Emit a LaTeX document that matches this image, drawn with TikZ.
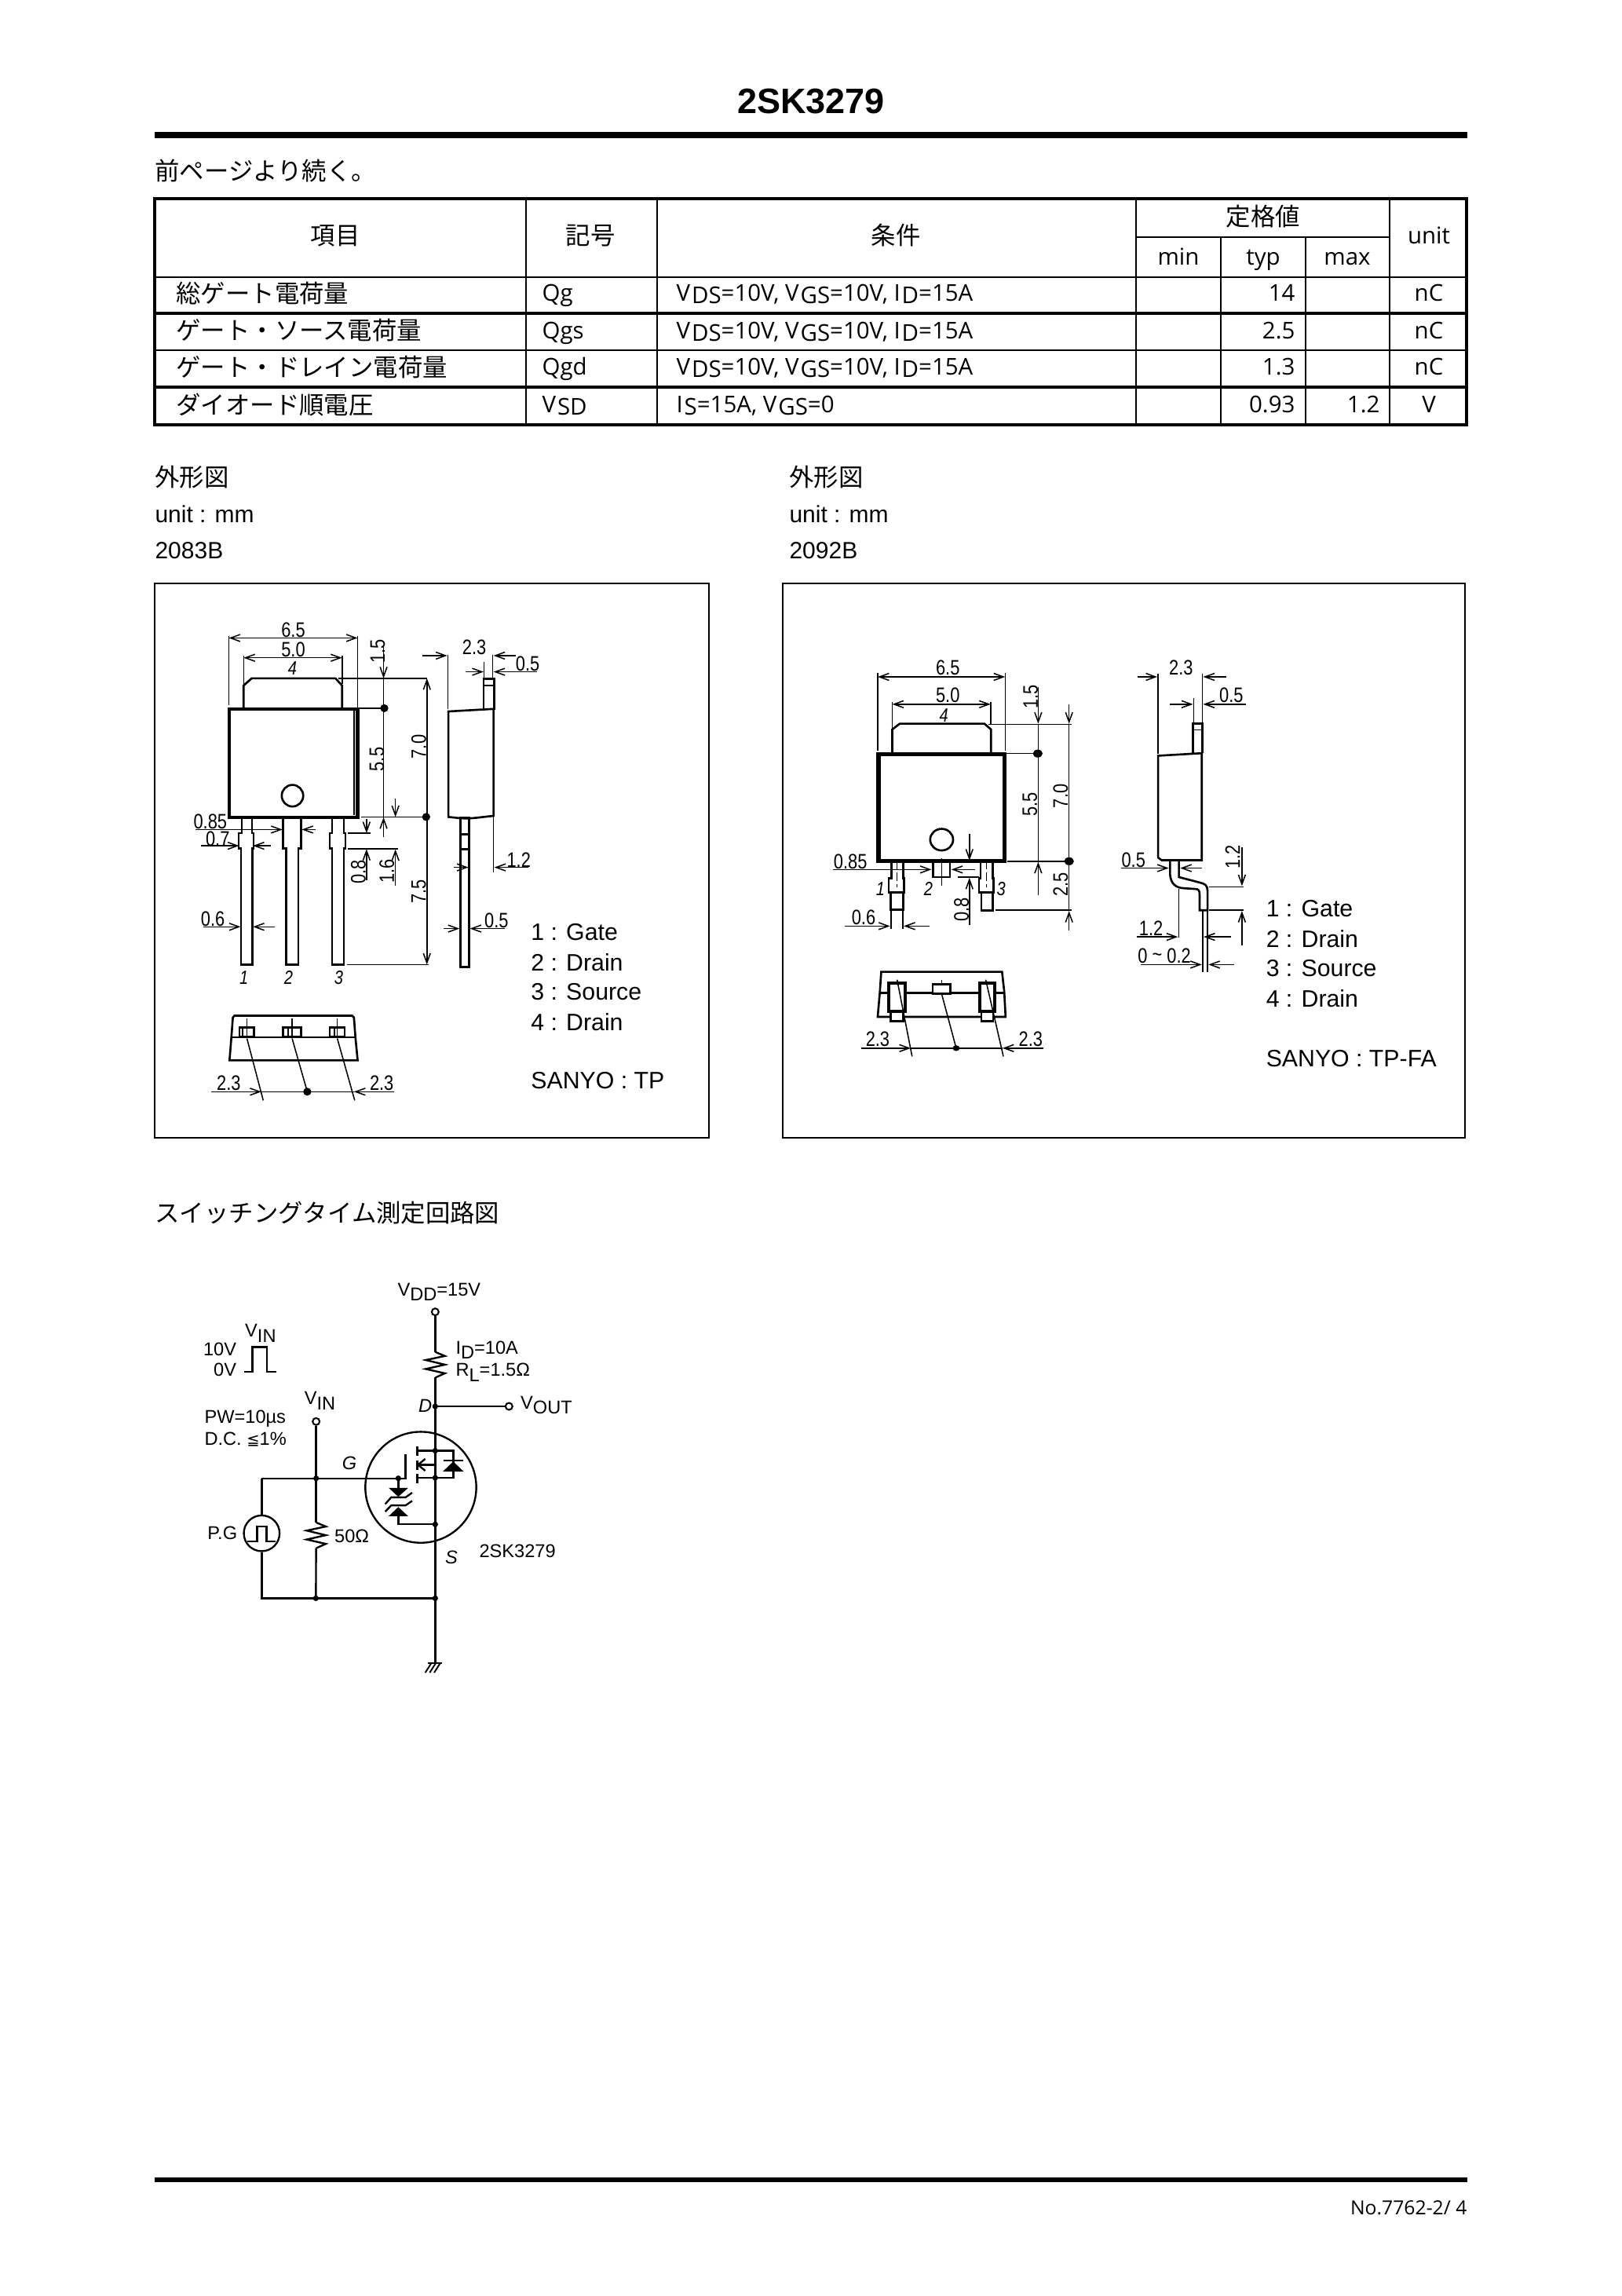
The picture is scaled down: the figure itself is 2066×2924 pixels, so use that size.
\documentclass[tikz,border=0pt]{standalone}
\usepackage{fontspec}
\usetikzlibrary{arrows.meta}
\setmainfont{Liberation Sans}
\newfontfamily\cjk{Noto Sans CJK JP}
\newfontfamily\tabf{Open Sans}
\newfontfamily\dimf[FakeStretch=0.82]{Liberation Sans}
\newfontfamily\djv{DejaVu Sans}
\newcommand\Sb[1]{\kern0.7pt\raisebox{-1.2pt}{#1}}
\newcommand\Sc[1]{\raisebox{-2.3pt}{#1}}
\newcounter{lbl}
\newcommand\Lab[3][]{\stepcounter{lbl}\node[dimlab,#1] (lab\thelbl) at (#2) {#3};}
\newcommand\Rot[2]{\stepcounter{lbl}\node[dimlab,rotate=90] (lab\thelbl) at (#1) {#2};}
\newcommand\Ar[2]{\draw[dimar] (#1) -- (#2);}
\newcommand\Li[2]{\draw[thinl] (#1) -- (#2);}
\newcommand\Dt[1]{\fill (#1) ellipse [x radius=11,y radius=11];}
\tikzset{
 dimlab/.style={inner sep=0pt,font=\dimf\fontsize{9.6}{10}\selectfont},
 legend/.style={inner sep=0pt,anchor=west,font=\fontsize{10.9}{12}\selectfont},
 nums/.style={inner sep=0pt,font=\itshape\dimf\fontsize{8.8}{10}\selectfont},
 dimar/.style={line width=0.55pt,-{Straight Barb[length=4.4pt,width=3.2pt]}},
 thinl/.style={line width=0.55pt},
 outl/.style={line width=0.95pt,line join=miter},
 heavy/.style={line width=1.5pt},
 tabt/.style={inner sep=0pt,font=\tabf\fontsize{10.6}{12}\selectfont},
 tabj/.style={inner sep=0pt,font=\cjk\fontsize{11.3}{12}\selectfont},
 plain/.style={inner sep=0pt,font=\fontsize{10.8}{12}\selectfont},
 wire/.style={line width=0.85pt},
 ctext/.style={inner sep=0pt,font=\fontsize{8.5}{10}\selectfont},
 citalic/.style={inner sep=0pt,font=\itshape\fontsize{8.5}{10}\selectfont},
 opent/.style={circle,draw,fill=white,line width=0.75pt,inner sep=0pt,minimum size=3.2pt},
 jdot/.style={circle,fill=black,inner sep=0pt,minimum size=2.6pt},
}
\begin{document}
\begin{tikzpicture}[x=0.36pt,y=-0.36pt]
\useasboundingbox[fill=white] (0,0) rectangle (2066,2924);
% header
\node[inner sep=0pt,font=\bfseries\fontsize{16.2}{18}\selectfont] (title) at (1033,129) {2SK3279};
\draw[line width=2.9pt] (197,172) -- (1869,172);
\node[tabj,anchor=west] (cont) at (197,218) {前ページより続く。};
% table
\draw[line width=1.1pt] (197,253) rectangle (1868,541);
\draw[line width=0.8pt] (197,353) -- (1868,353);
\draw[line width=1.3pt] (197,399) -- (1868,399);
\draw[line width=0.8pt] (197,446) -- (1868,446);
\draw[line width=1.1pt] (197,493) -- (1868,493);
\foreach \xx in {670,837,1447,1770} \draw[line width=0.8pt] (\xx,253) -- (\xx,541);
\foreach \xx in {1555,1663} \draw[line width=0.8pt] (\xx,302) -- (\xx,541);
\draw[line width=0.8pt] (1447,302) -- (1770,302);
\node[tabj] (h1) at (427,300) {項目};
\node[tabj] (h2) at (752,300) {記号};
\node[tabj] (h3) at (1141,300) {条件};
\node[tabj] (h4) at (1609,276) {定格値};
\node[tabt] (h5) at (1820,300) {unit};
\node[tabt,anchor=base] (h6) at (1501,337) {min};
\node[tabt,anchor=base] (h7) at (1609,337) {typ};
\node[tabt,anchor=base] (h8) at (1716,337) {max};
\node[tabj,anchor=west] (a1) at (224,374) {総ゲート電荷量};
\node[tabj,anchor=west] (a2) at (224,421) {ゲート・ソース電荷量};
\node[tabj,anchor=west] (a3) at (224,468) {ゲート・ドレイン電荷量};
\node[tabj,anchor=west] (a4) at (224,515) {ダイオード順電圧};
\node[tabt,anchor=base west] (b1) at (690,383) {Qg};
\node[tabt,anchor=base west] (b2) at (690,431) {Qgs};
\node[tabt,anchor=base west] (b3) at (690,477) {Qgd};
\node[tabt,anchor=base west] (b4) at (690,525) {V\Sb{SD}};
\node[tabt,anchor=base west] (c1) at (861,383) {V\Sb{DS}=10V, V\Sb{GS}=10V, I\Sb{D}=15A};
\node[tabt,anchor=base west] (c2) at (861,431) {V\Sb{DS}=10V, V\Sb{GS}=10V, I\Sb{D}=15A};
\node[tabt,anchor=base west] (c3) at (861,477) {V\Sb{DS}=10V, V\Sb{GS}=10V, I\Sb{D}=15A};
\node[tabt,anchor=base west] (c4) at (861,525) {I\Sb{S}=15A, V\Sb{GS}=0};
\node[tabt,anchor=base east] (d1) at (1650,383) {14};
\node[tabt,anchor=base east] (d2) at (1650,431) {2.5};
\node[tabt,anchor=base east] (d3) at (1650,477) {1.3};
\node[tabt,anchor=base east] (d4) at (1650,525) {0.93};
\node[tabt,anchor=base east] (e4) at (1758,525) {1.2};
\node[tabt,anchor=base] (f1) at (1820,383) {nC};
\node[tabt,anchor=base] (f2) at (1820,431) {nC};
\node[tabt,anchor=base] (f3) at (1820,477) {nC};
\node[tabt,anchor=base] (f4) at (1820,525) {V};
% captions
\node[tabj,anchor=west] (s1) at (197,608) {外形図};
\node[plain,anchor=west] (s2) at (197,655) {unit : mm};
\node[plain,anchor=west] (s3) at (197,701) {2083B};
\node[tabj,anchor=west] (s4) at (1005,608) {外形図};
\node[plain,anchor=west] (s5) at (1005,655) {unit : mm};
\node[plain,anchor=west] (s6) at (1005,701) {2092B};
\draw[line width=0.95pt] (197,743) rectangle (903,1449);
\draw[line width=0.95pt] (997,743) rectangle (1866,1449);
\node[tabj,anchor=west] (s7) at (197,1545) {スイッチングタイム測定回路図};
% footer
\draw[line width=1.9pt] (197,2776) -- (1869,2776);
\node[inner sep=0pt,anchor=east,font=\tabf\fontsize{8.9}{11}\selectfont] (foot) at (1869,2812) {No.7762-2/ 4};

% ---------- panel 1
\begin{scope}[shift={(190,740)},x=0.1698pt,y=-0.1651pt]
\Li{215,152}{215,345}\Li{563,152}{563,350}
\draw[dimar,{Straight Barb[length=4.4pt,width=3.2pt]}-{Straight Barb[length=4.4pt,width=3.2pt]}] (215,158) -- (563,158);
\Lab{389,135}{6.5}
\Li{255,208}{255,290}\Li{521,208}{521,285}
\draw[dimar,{Straight Barb[length=4.4pt,width=3.2pt]}-{Straight Barb[length=4.4pt,width=3.2pt]}] (255,213) -- (521,213);
\Lab{389,190}{5.0}
\Lab[nums]{387,243}{4}
\draw[outl] (255,352) -- (255,290) -- (277,270) -- (503,270) -- (521,290) -- (521,352);
\draw[heavy] (217,355) rectangle (563,656);
\Li{553,360}{553,650}
\draw[outl] (387,596) ellipse [x radius=29,y radius=30];
\Li{510,270}{750,270}\Li{567,353}{640,353}\Li{572,655}{748,655}
\Ar{633,178}{633,270}\Li{633,270}{633,353}\Dt{635,353}
\Li{633,353}{633,710}\Ar{633,710}{633,656}
\Rot{617,195}{1.5}\Rot{615,495}{5.5}
\Ar{750,655}{750,270}\Ar{750,655}{750,1065}\Dt{748,655}
\Rot{728,460}{7.0}\Rot{728,862}{7.5}
\Li{535,1065}{755,1065}
\Li{537,700}{597,700}\Li{537,743}{672,743}
\Ar{587,660}{587,700}\Ar{587,830}{587,744}\Rot{565,808}{0.8}
\Ar{665,605}{665,655}\Ar{665,845}{665,745}\Rot{642,805}{1.6}
\draw[outl] (250,656) -- (250,700) -- (242,700) -- (242,743) -- (248,743) -- (248,1065) -- (279,1065) -- (279,743) -- (282,743) -- (282,700) -- (278,700) -- (278,656);
\draw[outl] (362,656) -- (362,743) -- (370,743) -- (370,1065) -- (403,1065) -- (403,743) -- (410,743) -- (410,656);
\draw[outl] (494,656) -- (494,700) -- (488,700) -- (488,743) -- (494,743) -- (494,1065) -- (526,1065) -- (526,743) -- (530,743) -- (530,700) -- (526,700) -- (526,656);
\Ar{125,690}{360,690}\Ar{450,690}{412,690}\Lab{165,667}{0.85}
\Ar{140,735}{243,735}\Ar{328,735}{280,735}\Lab{185,715}{0.7}
\Ar{146,960}{247,960}\Ar{340,960}{280,960}\Lab{172,938}{0.6}
\Lab[nums]{256,1102}{1}\Lab[nums]{376,1102}{2}\Lab[nums]{512,1102}{3}
% side view
\draw[outl] (808,362) -- (930,355) -- (930,652) .. controls (900,655) and (870,660) .. (850,659) .. controls (830,658) and (820,656) .. (808,655) -- cycle;
\draw[outl] (903,357) -- (903,272) -- (932,272) -- (932,357);
\Li{903,290}{932,290}
\draw[outl] (840,657) rectangle (864,1072);
\draw[outl] (840,703) -- (864,703) (840,745) -- (864,745);
\Li{807,205}{807,355}\Li{928,205}{928,270}\Li{904,225}{904,270}
\Ar{738,207}{805,207}\Ar{990,207}{930,207}\Lab{878,183}{2.3}
\Ar{855,252}{903,252}\Ar{1048,252}{930,252}\Lab{1022,230}{0.5}
\Li{930,655}{930,810}
\Ar{822,795}{862,795}\Ar{1025,795}{932,795}\Lab{998,775}{1.2}
\Ar{795,965}{838,965}\Ar{960,965}{866,965}\Lab{938,942}{0.5}
\node[legend] (p1a) at (1030,975) {1 : Gate};
\node[legend] (p1b) at (1030,1058) {2 : Drain};
\node[legend] (p1c) at (1030,1141) {3 : Source};
\node[legend] (p1d) at (1030,1224) {4 : Drain};
\node[legend] (p1e) at (1030,1388) {SANYO : TP};
% end view
\draw[outl] (217,1331) -- (563,1331) -- (557,1267) -- (553,1212) -- (548,1207) -- (230,1207) -- (226,1212) -- (222,1267) -- cycle;
\draw[outl] (222,1267) -- (557,1267);
\draw[outl] (244,1240) rectangle (283,1265) (361,1240) rectangle (410,1265) (488,1240) rectangle (528,1265);
\Li{252,1240}{252,1265}\Li{375,1240}{375,1265}\Li{500,1240}{500,1265}
\Li{264,1215}{264,1270}\Li{386,1215}{386,1270}\Li{508,1215}{508,1270}
\Li{264,1270}{308,1442}\Li{386,1270}{427,1418}\Li{508,1270}{555,1442}
\Ar{167,1418}{303,1418}\Ar{662,1418}{553,1418}\Li{303,1418}{553,1418}\Dt{427,1418}
\Lab{215,1393}{2.3}\Lab{628,1393}{2.3}
\end{scope}

% ---------- panel 2
\begin{scope}[shift={(1000,740)},x=0.2022pt,y=-0.1651pt]
\Li{210,255}{210,470}\Li{499,255}{499,470}
\draw[dimar,{Straight Barb[length=4.4pt,width=3.2pt]}-{Straight Barb[length=4.4pt,width=3.2pt]}] (210,266) -- (499,266);
\Lab{369,240}{6.5}
\Li{243,335}{243,410}\Li{466,335}{466,400}
\draw[dimar,{Straight Barb[length=4.4pt,width=3.2pt]}-{Straight Barb[length=4.4pt,width=3.2pt]}] (243,342) -- (466,342);
\Lab{369,317}{5.0}\Lab[nums]{360,373}{4}
\draw[outl] (243,475) -- (243,412) -- (260,396) -- (452,396) -- (467,412) -- (467,475);
\draw[line width=1.9pt] (212,481) rectangle (497,778);
\draw[outl] (355,718) ellipse [x radius=26,y radius=30];
\Li{462,398}{650,398}\Li{500,479}{578,479}\Li{503,778}{650,778}\Li{478,914}{650,914}
\Ar{574,295}{574,396}\Li{574,396}{574,873}\Ar{574,873}{574,780}\Dt{573,479}
\Rot{557,322}{1.5}\Rot{555,620}{5.5}
\Ar{644,343}{644,396}\Li{644,396}{644,914}\Ar{644,970}{644,916}\Dt{644,778}
\Rot{625,597}{7.0}\Rot{625,842}{2.5}
\Ar{108,801}{332,801}\Ar{430,801}{377,801}\Lab{148,780}{0.85}
\Ar{418,702}{418,776}\Ar{418,955}{418,824}\Li{392,822}{440,822}\Rot{400,912}{0.8}
\draw[outl] (241,778) -- (241,825) -- (235,825) -- (235,864) -- (270,864) -- (270,825) -- (268,825) -- (268,778);
\draw[outl] (240,864) -- (240,912) -- (268,912) -- (268,864);
\draw[outl] (336,778) -- (336,822) -- (374,822) -- (374,778);
\Li{355,770}{355,845}
\draw[outl] (443,778) -- (443,825) -- (440,825) -- (440,864) -- (473,864) -- (473,825) -- (471,825) -- (471,778);
\draw[outl] (445,864) -- (445,914) -- (471,914) -- (471,864);
\draw[thinl,dash pattern=on 4pt off 1.5pt] (254,775) -- (254,850);
\draw[thinl,dash pattern=on 4pt off 1.5pt] (457,775) -- (457,850);
\Lab[nums]{216,855}{1}\Lab[nums]{325,855}{2}\Lab[nums]{490,855}{3}
\Li{240,912}{240,965}\Li{267,912}{267,965}
\Ar{135,958}{238,958}\Ar{328,958}{269,958}\Lab{178,935}{0.6}
% side
\draw[outl] (846,485) -- (945,478) -- (945,775) -- (854,775) -- (846,768) -- cycle;
\draw[outl] (925,482) -- (925,396) -- (946,396) -- (946,478);
\Li{925,413}{946,413}
\Li{846,258}{846,480}\Li{946,258}{946,395}\Li{927,325}{927,396}
\Ar{800,266}{844,266}\Ar{1000,266}{948,266}\Lab{898,240}{2.3}
\Ar{873,342}{925,342}\Ar{1045,342}{948,342}\Lab{1012,316}{0.5}
\draw[outl] (873,775) -- (873,815) .. controls (875,840) and (885,852) .. (905,853) -- (930,855) .. controls (938,855) and (940,860) .. (940,870) -- (940,914) -- (958,914) -- (958,860) .. controls (958,845) and (952,840) .. (940,837) -- (893,822) -- (893,775);
\Ar{762,797}{870,797}\Ar{945,797}{896,797}\Lab{790,775}{0.5}
\Li{962,849}{1040,849}\Li{962,914}{1040,914}
\Ar{1036,740}{1036,847}\Ar{1036,1012}{1036,916}\Rot{1015,766}{1.2}
\Li{893,855}{893,990}\Li{947,914}{947,1085}\Li{958,914}{958,1085}
\Ar{797,988}{891,988}\Ar{1012,988}{949,988}\Lab{830,965}{1.2}
\Ar{807,1065}{945,1065}\Ar{1018,1065}{960,1065}\Lab{860,1040}{0 \raisebox{0.5pt}{\textasciitilde} 0.2}
\node[legend] (p2a) at (1090,910) {1 : Gate};
\node[legend] (p2b) at (1090,993) {2 : Drain};
\node[legend] (p2c) at (1090,1076) {3 : Source};
\node[legend] (p2d) at (1090,1160) {4 : Drain};
\node[legend] (p2e) at (1090,1325) {SANYO : TP-FA};
% end
\draw[outl] (210,1210) -- (215,1140) -- (218,1085) -- (492,1085) -- (497,1140) -- (500,1210) -- cycle;
\draw[outl] (215,1144) -- (497,1144);
\draw[outl,fill=white] (240,1195) rectangle (268,1222);
\draw[outl,fill=white] (445,1195) rectangle (472,1222);
\draw[line width=1.3pt,fill=white] (235,1117) rectangle (272,1195);
\draw[line width=1.3pt,fill=white] (442,1117) rectangle (475,1195);
\draw[outl,fill=white] (335,1120) rectangle (375,1146);
\Li{254,1107}{288,1320}\Li{355,1108}{355,1120}\Li{355,1146}{388,1297}\Li{455,1107}{495,1320}
\Ar{172,1297}{285,1297}\Ar{585,1297}{493,1297}\Li{285,1297}{493,1297}
\fill (388,1297) ellipse [x radius=8,y radius=8];
\Lab{210,1272}{2.3}\Lab{557,1272}{2.3}
\end{scope}

% ---------- circuit
\begin{scope}[shift={(230,1620)},x=0.12pt,y=-0.1241pt]
\coordinate (vddw) at (973,147);
\coordinate (r1t) at (973,295);
\coordinate (r1b) at (973,390);
\coordinate (dn) at (973,496);
\coordinate (md) at (973,660);
\coordinate (ms) at (973,760);
\coordinate (zs) at (973,932);
\coordinate (gndj) at (973,1205);
\coordinate (gnd) at (973,1445);
\coordinate (gj) at (518,762);
\coordinate (gi) at (832,762);
\coordinate (gl) at (310,762);
\coordinate (bl) at (310,1205);
\coordinate (bj) at (517,1205);
\coordinate (r2t) at (518,925);
\coordinate (r2b) at (518,1020);
\node[opent] (vdd) at (vddw) {};
\node[opent] (vout) at (1255,496) {};
\node[opent] (vin) at (518,552) {};
\node[circle,draw,line width=0.85pt,inner sep=0pt,minimum size=16.4pt] (pg) at (310,965) {};
\draw[wire] (vdd) -- (r1t);
\draw[wire,line join=miter] (r1t) -- (1010,310) -- (937,325) -- (1010,342) -- (937,358) -- (1010,374) -- (r1b);
\draw[wire] (r1b) -- (gnd);
\draw[wire] (dn) -- (vout);
\draw[wire] (945,1445) -- (1000,1445);
\draw[line width=0.7pt] (958,1445) -- (935,1480) (975,1445) -- (952,1480) (992,1445) -- (969,1480);
\draw[line width=0.85pt] (918,795) ellipse [x radius=212,y radius=205];
\draw[wire] (gl) -- (gi) -- (860,762) -- (860,672);
\draw[wire] (905,645) -- (905,680) (905,695) -- (905,730) (905,745) -- (905,780);
\draw[wire] (905,660) -- (md) (905,760) -- (ms);
\draw[wire] (973,712) -- (973,760);
\draw[wire] (973,712) -- (907,712);
\draw[wire] (935,690) -- (907,712) -- (935,734);
\draw[wire] (md) -- (1042,660) -- (1042,760) -- (ms);
\fill (1042,700) -- (1082,737) -- (1002,737) -- cycle;
\draw[wire] (1004,697) -- (1080,697);
\draw[wire] (gi) -- (832,800);
\fill (795,797) -- (870,797) -- (832,830) -- cycle;
\draw[wire] (782,857) -- (805,832) -- (860,832) -- (885,815);
\draw[wire] (782,885) -- (805,862) -- (860,862) -- (885,845);
\fill (795,902) -- (870,902) -- (832,868) -- cycle;
\draw[wire] (832,900) -- (832,932) -- (zs);
\draw[wire] (gl) -- (pg);
\draw[wire] (pg) -- (bl) -- (gndj);
\draw[wire,line join=miter] (255,995) -- (293,995) -- (293,940) -- (328,940) -- (328,995) -- (362,995);
\draw[wire] (vin) -- (r2t);
\draw[wire,line join=miter] (r2t) -- (555,940) -- (482,955) -- (555,972) -- (482,988) -- (555,1004) -- (r2b);
\draw[wire] (r2b) -- (bj);
\foreach \c in {dn,md,ms,zs,gndj,gj,gi,bj} \node[jdot] at (\c) {};
\draw[wire,line join=miter] (243,368) -- (275,368) -- (275,277) -- (330,277) -- (330,368) -- (365,368);
\node[ctext,anchor=base west] (t1) at (828,88) {V\Sc{DD}=15V};
\node[ctext,anchor=base west] (t2) at (245,240) {V\Sc{IN}};
\node[ctext,anchor=east] (t3) at (215,285) {10V};
\node[ctext,anchor=east] (t4) at (215,362) {0V};
\node[ctext,anchor=west] (t5) at (90,542) {PW=10µs};
\node[ctext,anchor=west] (t6) at (90,618) {D.C. {\djv\fontsize{7}{8}\selectfont ≦}1\%};
\node[ctext,anchor=base west] (t7) at (472,490) {V\Sc{IN}};
\node[citalic] (t8) at (645,705) {G};
\node[citalic] (t9) at (935,495) {D};
\node[citalic] (t10) at (1035,1053) {S};
\node[ctext,anchor=west] (t11) at (1140,1030) {2SK3279};
\node[ctext,anchor=west] (t12) at (587,975) {50Ω};
\node[ctext,anchor=east] (t13) at (218,965) {P.G};
\node[ctext,anchor=base west] (t14) at (1050,303) {I\Sc{D}=10A};
\node[ctext,anchor=base west] (t15) at (1050,385) {R\Sc{L}=1.5Ω};
\node[ctext,anchor=base west] (t16) at (1298,505) {V\Sc{OUT}};
\end{scope}
\end{tikzpicture}
\end{document}
